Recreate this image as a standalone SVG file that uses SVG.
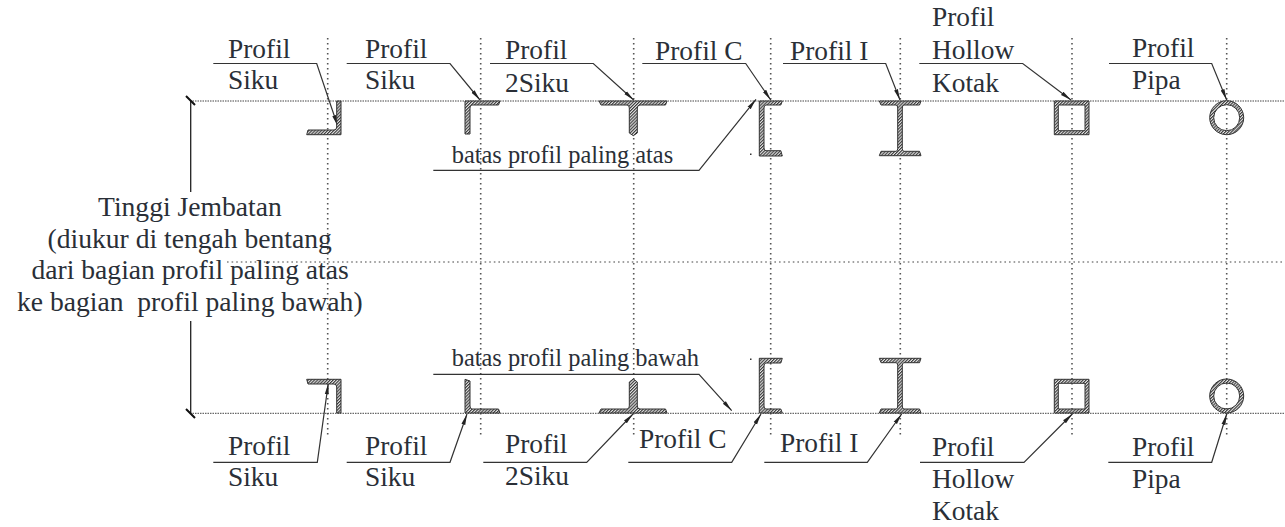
<svg xmlns="http://www.w3.org/2000/svg" width="1285" height="527" viewBox="0 0 1285 527">
<style>
text{font-family:"Liberation Serif","Times New Roman",serif;fill:#2a2f37}
.l{font-size:27.4px}
.m{font-size:24.4px}
.t{font-size:27.6px}
.dv{stroke:#555;stroke-width:1.6;stroke-dasharray:1.6 3.4;fill:none}
.dh{stroke:#444;stroke-width:1;stroke-dasharray:1.5 1;fill:none}
.dm{stroke:#444;stroke-width:1.2;stroke-dasharray:1.6 3;fill:none}
.ln{stroke:#333;stroke-width:1.2;fill:none}
.dim{stroke:#222;stroke-width:1.3;fill:none}
.tick{stroke:#111;stroke-width:2;fill:none}
.p{fill:url(#h);stroke:#333;stroke-width:1;stroke-linejoin:round}
</style>
<defs>
<pattern id="h" width="2.2" height="2.2" patternUnits="userSpaceOnUse" patternTransform="rotate(45)">
<rect width="2.2" height="2.2" fill="#e4e4e4"/><rect width="1.1" height="2.2" fill="#3a3a3a"/>
</pattern>
<marker id="a" markerUnits="userSpaceOnUse" markerWidth="12" markerHeight="6" refX="11" refY="3" orient="auto"><path d="M0 1L11 3L0 5Z" fill="#222"/></marker>
</defs>
<rect width="1285" height="527" fill="#fff"/>
<g id="grid">
<path class="dv" d="M327.700 38V438M480.700 38V438M633.700 38V438M770.700 38V438M900.300 38V438M1072 38V438M1226.700 38V438"/>
<path class="dh" d="M190 101H1285M190 413.300H1285"/>
<path class="dm" d="M227 262H1285"/>
</g>
<g id="connectors">
<g class="ln">
<path marker-end="url(#a)" d="M213.300 63.500H316.700L337.700 126"/>
<path marker-end="url(#a)" d="M346.700 63.500H450L480 100"/>
<path marker-end="url(#a)" d="M490 63.500H593.300L633.700 100"/>
<path marker-end="url(#a)" d="M642.300 63.500H745.700L770.700 100"/>
<path marker-end="url(#a)" d="M783 63.500H885.700L900 100"/>
<path marker-end="url(#a)" d="M919.300 63.500H1022.700L1071 100"/>
<path marker-end="url(#a)" d="M1109 63.500H1211.700L1226.700 100"/>
<path marker-end="url(#a)" d="M433.300 170.300H699L756 99.300"/>
<path marker-end="url(#a)" d="M433.300 374.300H699L731.700 410.700"/>
<path marker-end="url(#a)" d="M213.300 462.300H317.300L328.300 383.300"/>
<path marker-end="url(#a)" d="M346.700 462.300H450L467 414"/>
<path marker-end="url(#a)" d="M483.300 462.300H586.700L633 414"/>
<path marker-end="url(#a)" d="M628.300 462.300H731.700L761 414"/>
<path marker-end="url(#a)" d="M764.300 462.300H867.300L901.700 414"/>
<path marker-end="url(#a)" d="M920 462.300H1024L1072.300 414"/>
<path marker-end="url(#a)" d="M1108.300 462.300H1211.700L1226.700 414"/>
</g>
<path class="dim" d="M190.700 101V192M190.700 321V413"/>
<path class="tick" d="M186 96L195 105M186 409L195 418"/>
<path d="M750 154.300h1.500M750 359.300h1.500" stroke="#333" stroke-width="1.500"/>
</g>
<g id="height-label">
<text class="t" x="98" y="216">Tinggi Jembatan</text>
<text class="t" x="47.500" y="248">(diukur di tengah bentang</text>
<text class="t" x="31.500" y="279">dari bagian profil paling atas</text>
<text class="t" x="17" y="310.700" xml:space="preserve">ke bagian  profil paling bawah)</text>
</g>
<g id="batas-atas"><text class="m" x="451.700" y="162.700">batas profil paling atas</text></g>
<g id="batas-bawah"><text class="m" x="451.700" y="366">batas profil paling bawah</text></g>
<g id="top-siku-1">
<path class="p" d="M336.700 101H341V134.700H306.700L308 130H334Q336.700 130 336.700 127Z"/>
<text class="l" x="228" y="57.700">Profil</text><text class="l" x="228" y="89.300">Siku</text>
</g>
<g id="top-siku-2">
<path class="p" d="M465 101H500L498.500 105H472Q470 105 470 108V134L465 134Z"/>
<text class="l" x="365" y="57.700">Profil</text><text class="l" x="365" y="89.300">Siku</text>
</g>
<g id="top-2siku">
<path class="p" d="M599 101H667L665.500 105H640Q637.300 105 637.300 108V133L633.300 135.700L629.300 133V108Q629.300 105 627 105H601Z"/>
<text class="l" x="505" y="59">Profil</text><text class="l" x="505" y="92">2Siku</text>
</g>
<g id="top-c">
<path class="p" d="M759.300 101H782.300L780.800 105H766Q764 105 764 108V148Q764 150.700 766 150.700H780.800L782.300 156H759.300Z"/>
<text class="l" x="655" y="60">Profil C</text>
</g>
<g id="top-i">
<path class="p" d="M879.300 101H921L919.500 105H904Q902.300 105 902.300 108V148.500Q902.300 151.300 904 151.300H919.500L921 155.700H879.300L881 151.300H896Q897.700 151.300 897.700 148.500V108Q897.700 105 896 105H881Z"/>
<text class="l" x="790" y="60">Profil I</text>
</g>
<g id="top-hollow">
<path class="p" fill-rule="evenodd" d="M1054.300 101H1089V134.700H1054.300ZM1058.300 105V130.700H1085V105Z"/>
<text class="l" x="932" y="26">Profil</text><text class="l" x="932" y="59">Hollow</text><text class="l" x="932" y="92">Kotak</text>
</g>
<g id="top-pipa">
<path class="p" fill-rule="evenodd" d="M1209.700 117.700a17 17 0 1 0 34 0a17 17 0 1 0 -34 0ZM1213.700 117.700a13 13 0 1 0 26 0a13 13 0 1 0 -26 0Z"/>
<text class="l" x="1132" y="57">Profil</text><text class="l" x="1132" y="89">Pipa</text>
</g>
<g id="bottom-siku-1">
<path class="p" d="M306.700 379.300H341V413H336.700V387Q336.700 384 334 384H308Z"/>
<text class="l" x="228" y="455">Profil</text><text class="l" x="228" y="486">Siku</text>
</g>
<g id="bottom-siku-2">
<path class="p" d="M465 379.300L470 381V406Q470 409 472 409H498.500L500 413H465Z"/>
<text class="l" x="365" y="455">Profil</text><text class="l" x="365" y="486">Siku</text>
</g>
<g id="bottom-2siku">
<path class="p" d="M599 413H667L665.500 409H640Q637.300 409 637.300 406V382L633.300 379L629.300 382V406Q629.300 409 627 409H601Z"/>
<text class="l" x="505" y="453">Profil</text><text class="l" x="505" y="485">2Siku</text>
</g>
<g id="bottom-c">
<path class="p" d="M759.300 413H782.300L780.800 409H766Q764 409 764 406V366Q764 363 766 363H780.800L782.300 358.300H759.300Z"/>
<text class="l" x="639" y="448">Profil C</text>
</g>
<g id="bottom-i">
<path class="p" d="M879.300 413H921L919.500 409H904Q902.300 409 902.300 406V365.700Q902.300 362.700 904 362.700H919.500L921 358.300H879.300L881 362.700H896Q897.700 362.700 897.700 365.700V406Q897.700 409 896 409H881Z"/>
<text class="l" x="780" y="452">Profil I</text>
</g>
<g id="bottom-hollow">
<path class="p" fill-rule="evenodd" d="M1054.300 379.300H1089V413H1054.300ZM1058.300 383.300V409H1085V383.300Z"/>
<text class="l" x="932" y="455.700">Profil</text><text class="l" x="932" y="488">Hollow</text><text class="l" x="932" y="520">Kotak</text>
</g>
<g id="bottom-pipa">
<path class="p" fill-rule="evenodd" d="M1209.700 396a17 17 0 1 0 34 0a17 17 0 1 0 -34 0ZM1213.700 396a13 13 0 1 0 26 0a13 13 0 1 0 -26 0Z"/>
<text class="l" x="1132" y="455.700">Profil</text><text class="l" x="1132" y="488">Pipa</text>
</g>
</svg>
